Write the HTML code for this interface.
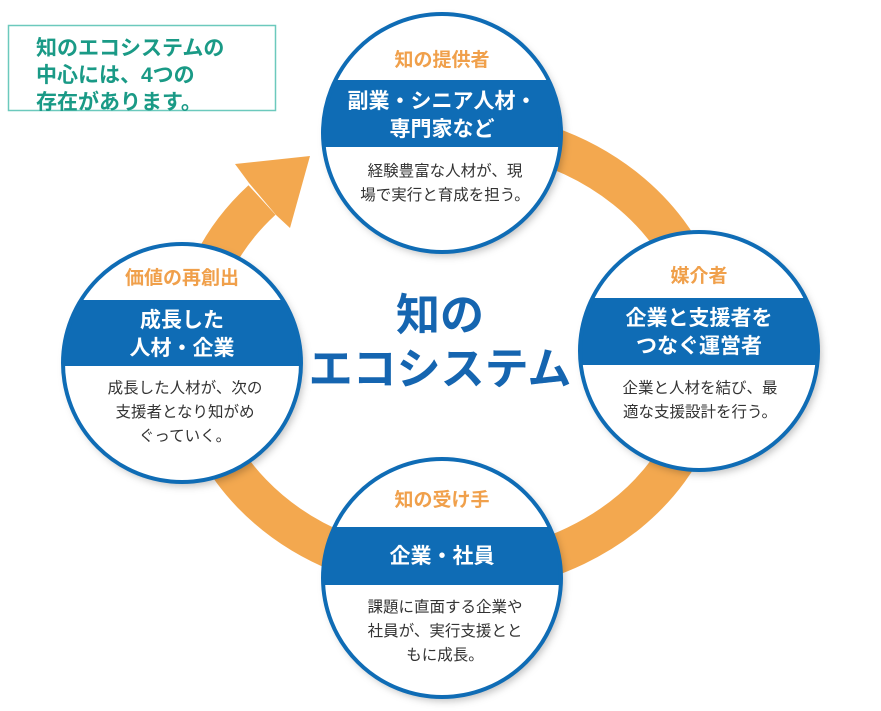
<!DOCTYPE html>
<html><head><meta charset="utf-8"><style>
html,body{margin:0;padding:0;background:#fff;}
svg{display:block;font-family:"Liberation Sans","Noto Sans CJK JP",sans-serif;}
.h{fill:#f0a04b;font-size:19px;font-weight:bold;text-anchor:middle;}
.b{fill:#fff;font-size:21px;font-weight:bold;text-anchor:middle;}
.t{fill:#333;font-size:15.5px;text-anchor:middle;}
.g{fill:#1a9a86;font-size:21px;font-weight:bold;}
</style></head><body>
<svg width="881" height="711" viewBox="0 0 881 711">
<defs>
<filter id="sh" x="-20%" y="-20%" width="140%" height="140%"><feDropShadow dx="3" dy="4" stdDeviation="4" flood-color="#000" flood-opacity="0.25"/></filter>
<clipPath id="c1"><circle cx="442" cy="133" r="119"/></clipPath>
<clipPath id="c2"><circle cx="699" cy="351" r="119"/></clipPath>
<clipPath id="c3"><circle cx="442" cy="578" r="119"/></clipPath>
<clipPath id="c4"><circle cx="182" cy="363" r="119"/></clipPath>
</defs>
<!-- ring -->
<path d="M400 134 A258 222 0 1 1 262 200" fill="none" stroke="#f3a84f" stroke-width="40"/>
<polygon points="310,156 290,228 276,215 249,183 235,164" fill="#f3a84f"/>
<!-- box -->
<rect x="8.5" y="25.5" width="267" height="85" fill="#fff" stroke="#6cc9bd" stroke-width="1.5"/>
<text class="g" x="36" y="55">知のエコシステムの</text>
<text class="g" x="36" y="82">中心には、4つの</text>
<text class="g" x="36" y="109">存在があります。</text>
<!-- center title -->
<text x="440" y="330" fill="#1565b0" font-size="44" font-weight="bold" text-anchor="middle">知の</text>
<text x="440" y="384" fill="#1565b0" font-size="44" font-weight="bold" text-anchor="middle">エコシステム</text>
<!-- top -->
<g filter="url(#sh)"><circle cx="442" cy="133" r="119" fill="#fff"/></g>
<rect x="300" y="80" width="300" height="67" fill="#0f6cb5" clip-path="url(#c1)"/>
<circle cx="442" cy="133" r="119" fill="none" stroke="#0f6cb5" stroke-width="4"/>
<text class="h" x="442" y="66">知の提供者</text>
<text class="b" x="442" y="108">副業・シニア人材・</text>
<text class="b" x="442" y="136">専門家など</text>
<text class="t" x="445" y="176">経験豊富な人材が、現</text>
<text class="t" x="445" y="200">場で実行と育成を担う。</text>
<!-- right -->
<g filter="url(#sh)"><circle cx="699" cy="351" r="119" fill="#fff"/></g>
<rect x="570" y="298" width="260" height="67" fill="#0f6cb5" clip-path="url(#c2)"/>
<circle cx="699" cy="351" r="119" fill="none" stroke="#0f6cb5" stroke-width="4"/>
<text class="h" x="699" y="282">媒介者</text>
<text class="b" x="699" y="325">企業と支援者を</text>
<text class="b" x="699" y="353">つなぐ運営者</text>
<text class="t" x="700" y="393">企業と人材を結び、最</text>
<text class="t" x="700" y="417">適な支援設計を行う。</text>
<!-- bottom -->
<g filter="url(#sh)"><circle cx="442" cy="578" r="119" fill="#fff"/></g>
<rect x="300" y="527" width="300" height="58" fill="#0f6cb5" clip-path="url(#c3)"/>
<circle cx="442" cy="578" r="119" fill="none" stroke="#0f6cb5" stroke-width="4"/>
<text class="h" x="442" y="506">知の受け手</text>
<text class="b" x="442" y="563">企業・社員</text>
<text class="t" x="445" y="612">課題に直面する企業や</text>
<text class="t" x="445" y="636">社員が、実行支援とと</text>
<text class="t" x="445" y="660">もに成長。</text>
<!-- left -->
<g filter="url(#sh)"><circle cx="182" cy="363" r="119" fill="#fff"/></g>
<rect x="50" y="300" width="270" height="66" fill="#0f6cb5" clip-path="url(#c4)"/>
<circle cx="182" cy="363" r="119" fill="none" stroke="#0f6cb5" stroke-width="4"/>
<text class="h" x="182" y="284">価値の再創出</text>
<text class="b" x="182" y="327">成長した</text>
<text class="b" x="182" y="355">人材・企業</text>
<text class="t" x="185" y="393">成長した人材が、次の</text>
<text class="t" x="185" y="417">支援者となり知がめ</text>
<text class="t" x="185" y="441">ぐっていく。</text>
</svg>
</body></html>
